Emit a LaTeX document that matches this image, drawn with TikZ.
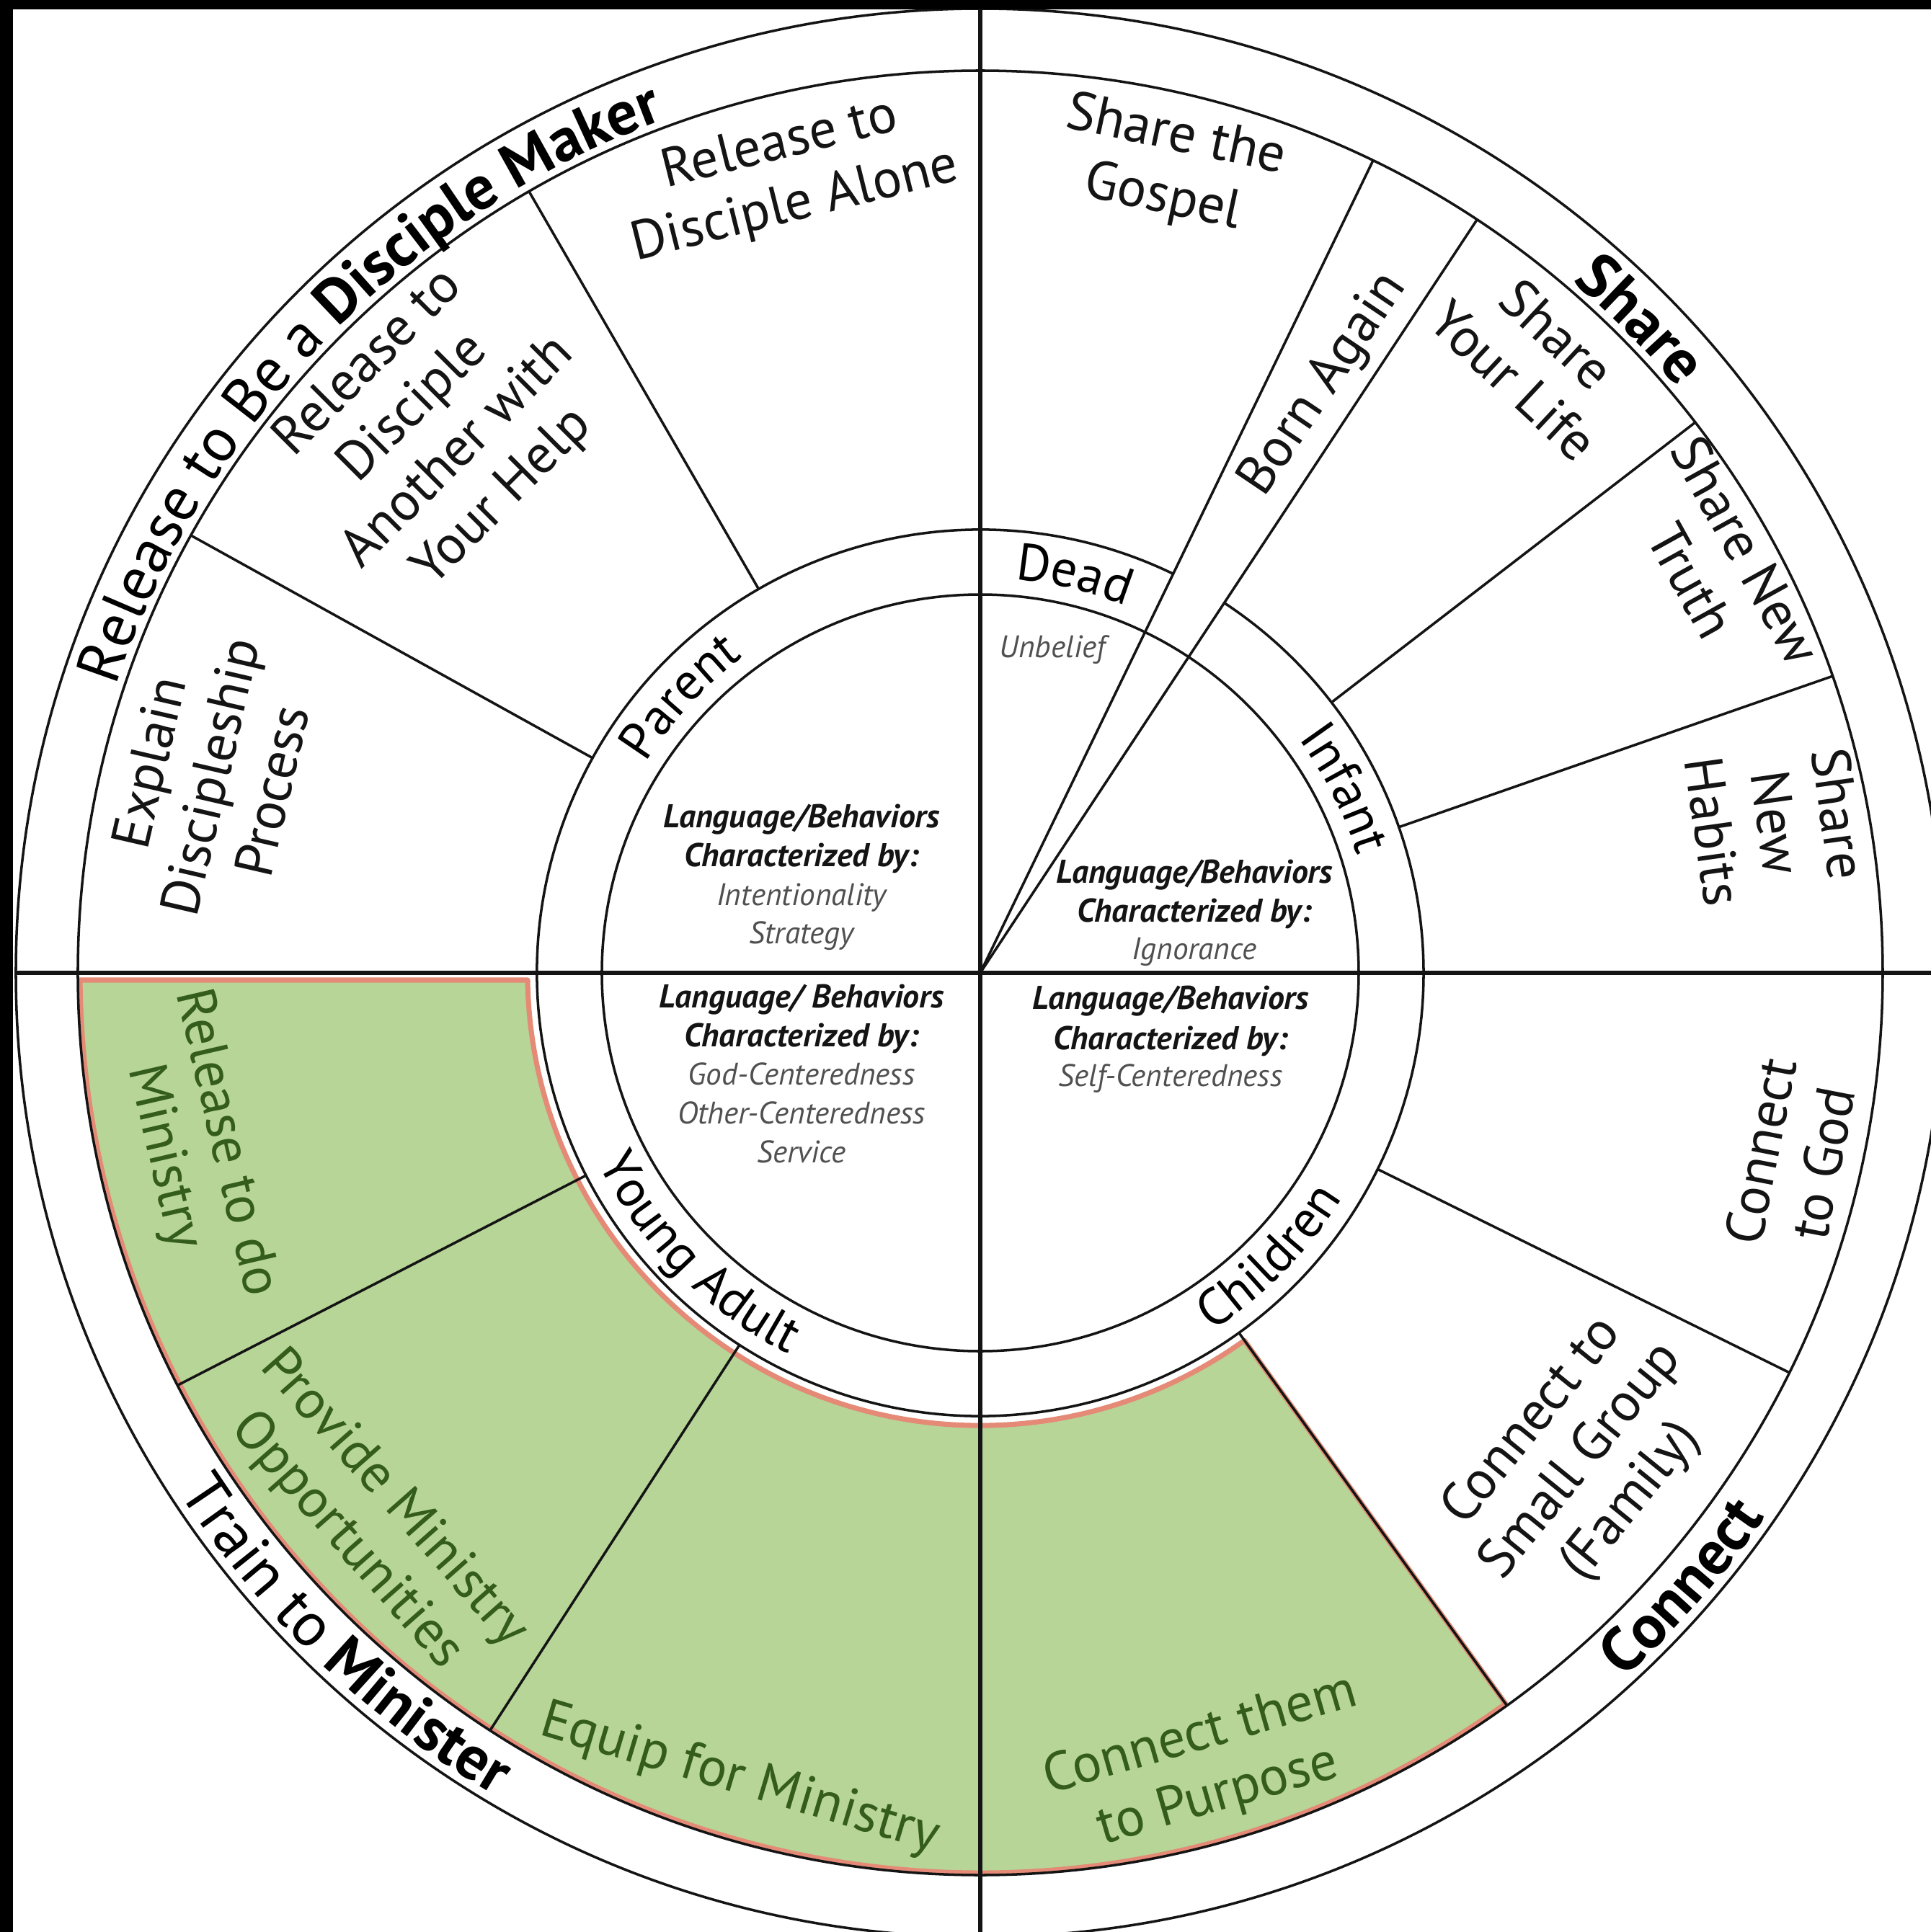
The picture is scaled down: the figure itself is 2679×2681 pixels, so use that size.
\documentclass[tikz,border=0pt]{standalone}
\usepackage{fontspec}
\setmainfont{PT Sans}
\usetikzlibrary{decorations.text}
\definecolor{hlgreen}{RGB}{182,213,151}
\definecolor{hlred}{RGB}{228,138,118}
\definecolor{txtgreen}{RGB}{52,92,28}
\definecolor{graytxt}{RGB}{80,80,80}
\definecolor{inkc}{RGB}{20,20,20}
\newcommand\mycatfont{\fontsize{24.5}{28}\selectfont}
\newcommand\mystagefont{\fontsize{20.5}{24}\selectfont}
\begin{document}
\begin{tikzpicture}[x=0.01cm,y=0.01cm,
  ln/.style={line width=1pt, draw=inkc},
  axisline/.style={line width=1.6pt, draw=inkc},
  seglabel/.style={font=\fontsize{21.5}{25}\selectfont, align=center, inner sep=0pt, text=inkc},
  greenlabel/.style={seglabel, text=txtgreen},
  midhead/.style={font=\fontsize{13}{15}\selectfont\bfseries\itshape, anchor=base, inner sep=0pt, text=inkc},
  midtrait/.style={font=\fontsize{12.3}{14}\selectfont\itshape, anchor=base, inner sep=0pt, text=graytxt},
]
\useasboundingbox (-1360,-1331) rectangle (1319,1350);
\begin{scope}
\clip (-1360,-1331) rectangle (1319,1350);
\fill[white] (-1360,-1331) rectangle (1319,1350);
% highlighted region
\filldraw[fill=hlgreen, draw=hlred, line width=2pt, line join=round]
  (-1249,-10) -- (-628,-10) arc[start angle=180.9, end angle=305.7, radius=628]
  -- (305.7:1249) arc[start angle=305.7, end angle=180.46, radius=1249] -- cycle;
% circles
\draw[ln] (0,0) circle[radius=1338];
\draw[ln] (0,0) circle[radius=1252];
\draw[ln] (0,0) circle[radius=525];
\draw[ln] (64.2:615) arc[start angle=64.2, end angle=416.6, radius=615];
% axes
\draw[axisline] (-1340,0) -- (1340,0);
\draw[axisline] (0,-1340) -- (0,1340);
% born again strip
\draw[ln] (0,0) -- (64.2:1252);
\draw[ln] (0,0) -- (56.6:1252);
% segment dividers
\foreach \a in {151,120,37.6,19.2,-26.3,-54.3,207.2,237.1}
  \draw[ln] (\a:615) -- (\a:1252);
\end{scope}

% category labels (outer ring)
\path[decorate, decoration={text along path, text align=center,
  text={|\mycatfont|Release to Be a |\mycatfont\bfseries|Disciple Maker}}]
  (190:1263) arc[start angle=190, end angle=82, radius=1263];
\path[decorate, decoration={text along path, text align=center,
  text={|\mycatfont\bfseries|Share}}]
  (74.7:1263) arc[start angle=74.7, end angle=14.7, radius=1263];
\path[decorate, decoration={text along path, text align=center,
  text={|\mycatfont\bfseries|Connect}}]
  (-71.2:1325) arc[start angle=-71.2, end angle=-11.2, radius=1325];
\path[decorate, decoration={text along path, text align=center,
  text={|\mycatfont|Train to |\mycatfont\bfseries|Minister}}]
  (186.2:1325) arc[start angle=186.2, end angle=266.2, radius=1325];

% stage labels (inner ring)
\path[decorate, decoration={text along path, text align=center,
  text={|\mystagefont|Parent}}]
  (167.4:548) arc[start angle=167.4, end angle=107.4, radius=548];
\path[decorate, decoration={text along path, text align=center,
  text={|\mystagefont|Dead}}]
  (106.7:548) arc[start angle=106.7, end angle=46.7, radius=548];
\path[decorate, decoration={text along path, text align=center,
  text={|\mystagefont|Infant}}]
  (56.8:548) arc[start angle=56.8, end angle=-3.2, radius=548];
\path[decorate, decoration={text along path, text align=center,
  text={|\mystagefont|Children}}]
  (-74.5:592) arc[start angle=-74.5, end angle=-14.5, radius=592];
\path[decorate, decoration={text along path, text align=center,
  text={|\mystagefont|Young Adult}}]
  (194.9:592) arc[start angle=194.9, end angle=254.9, radius=592];

% segment labels
\node[seglabel, rotate=14] (sAlone) at (103.6:1138) {Release to\\Disciple Alone};
\node[seglabel, rotate=45] (sAnother) at (135.1:1066) {Release to\\Disciple\\Another with\\Your Help};
\node[seglabel, rotate=77] (sExplain) at (165.7:1103) {Explain\\Discipleship\\Process};
\node[seglabel, rotate=-12] (sGospel) at (76.8:1148) {Share the\\Gospel};
\node[seglabel, rotate=56] (sBorn) at (59.7:945) {Born Again};
\node[seglabel, rotate=-43] (sLife) at (47.96:1150) {Share\\Your Life};
\node[seglabel, rotate=-61] (sTruth) at (28.9:1170) {Share New\\Truth};
\node[seglabel, rotate=-82] (sHabits) at (10.7:1124) {Share\\New\\Habits};
\node[seglabel, rotate=79] (sGod) at (-12.8:1154) {Connect\\to God};
\node[seglabel, rotate=51] (sSmall) at (-39.1:1076) {Connect to\\Small Group\\(Family)};
\node[greenlabel, rotate=16] (sPurpose) at (-73.9:1146) {Connect them\\to Purpose};
\node[greenlabel, rotate=-77] (sRelease) at (192.7:1118) {Release to do\\Ministry};
\node[greenlabel, rotate=-48.6] (sProvide) at (221.87:1137) {Provide Ministry\\Opportunities};
\node[greenlabel, rotate=-16.6] (sEquip) at (253.4:1169) {Equip for Ministry};

% centre texts
\node[midhead] (tl1) at (-248,202) {Language/Behaviors};
\node[midhead] (tl2) at (-248,148) {Characterized by:};
\node[midtrait] (tl3) at (-248,94) {Intentionality};
\node[midtrait] (tl4) at (-248,41) {Strategy};

\node[midtrait, anchor=center] (unb) at (100,448) {Unbelief};
\node[midhead] (tr1) at (297,125) {Language/Behaviors};
\node[midhead] (tr2) at (297,71) {Characterized by:};
\node[midtrait] (tr3) at (297,19) {Ignorance};

\node[midhead] (bl1) at (-248,-48) {Language/ Behaviors};
\node[midhead] (bl2) at (-248,-102) {Characterized by:};
\node[midtrait] (bl3) at (-248,-155) {God-Centeredness};
\node[midtrait] (bl4) at (-248,-209) {Other-Centeredness};
\node[midtrait] (bl5) at (-248,-263) {Service};

\node[midhead] (br1) at (264,-50) {Language/Behaviors};
\node[midhead] (br2) at (264,-106) {Characterized by:};
\node[midtrait] (br3) at (264,-157) {Self-Centeredness};

% black frame bands
\fill[black] (-1360,1337) rectangle (1319,1350);
\fill[black] (-1360,-1331) rectangle (-1342,1350);
\end{tikzpicture}
\end{document}
